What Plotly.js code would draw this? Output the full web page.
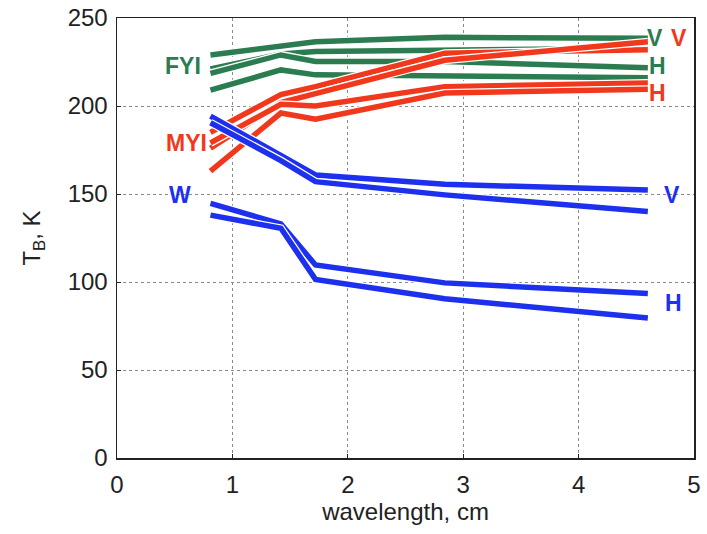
<!DOCTYPE html>
<html>
<head>
<meta charset="utf-8">
<script src="https://cdn.plot.ly/plotly-3.0.1.min.js"></script>
<style>html,body{margin:0;padding:0;background:#fff;}#chart{width:707px;height:534px;}</style>
</head>
<body>
<div id="chart"></div>
<script>
// wavelength, cm
const wavelength = [0.81, 1.42, 1.72, 2.84, 4.6];

// FYI (first-year ice)
const fyiV1 = [229, 234.5, 236.5, 239, 238.5];
const fyiV2 = [221, 229.5, 231, 232, 232.8];
const fyiH1 = [218.5, 229, 225.3, 225.3, 221.7];
const fyiH2 = [209, 220.5, 217.7, 217.3, 216];

// MYI (multi-year ice)
const myiV1 = [185, 206.5, 211, 230, 232];
const myiV2 = [176, 202, 207, 226, 236.5];
const myiH1 = [179, 201, 200, 211, 213];
const myiH2 = [163, 196, 192.5, 207.4, 209.5];

// W (water)
const wV1 = [194.3, 172, 160.8, 155.5, 152.3];
const wV2 = [190.5, 169, 157, 149.5, 140];
const wH1 = [144.7, 133, 109.7, 99.5, 93.5];
const wH2 = [138, 130.5, 101.5, 90.5, 79.5];

const GREEN = '#2b7c50', RED = '#f2381c', BLUE = '#1c30ee';

const series = [
  [fyiV1, GREEN], [fyiV2, GREEN], [fyiH1, GREEN], [fyiH2, GREEN],
  [myiV1, RED], [myiV2, RED], [myiH1, RED], [myiH2, RED],
  [wV1, BLUE], [wV2, BLUE], [wH1, BLUE], [wH2, BLUE]
];

const traces = [];
series.forEach(([ys, c]) => {
  traces.push({x: wavelength, y: ys, mode: 'lines', line: {color: '#ffffff', width: 8}, hoverinfo: 'skip', showlegend: false});
  traces.push({x: wavelength, y: ys, mode: 'lines', line: {color: c, width: 5.5}, showlegend: false});
});

// labels
const labelText = ['FYI', 'MYI', 'W', 'V', 'V', 'H', 'H', 'V', 'H'];
const labelX    = [0.57, 0.60, 0.55, 4.66, 4.87, 4.68, 4.68, 4.81, 4.82];
const labelY    = [222.5, 179, 149.5, 238.8, 238.8, 222.8, 207.6, 149.5, 88];
const labelCol  = [GREEN, RED, BLUE, GREEN, RED, GREEN, RED, BLUE, BLUE];

const FONT = 'Liberation Sans, Arial, sans-serif';

const annotations = labelText.map((t, i) => ({
  x: labelX[i], y: labelY[i], xref: 'x', yref: 'y', text: '<b>' + t + '</b>',
  showarrow: false, borderpad: 0, font: {family: FONT, size: 23, color: labelCol[i]}
}));

const axisCommon = {
  showline: true, linecolor: '#222', linewidth: 1.5, mirror: true,
  showgrid: true, gridcolor: '#8a8a8a', griddash: 'dot', gridwidth: 1,
  zeroline: false, ticks: 'inside', ticklen: 4, tickcolor: '#222',
  tickfont: {family: FONT, size: 24, color: '#222'}
};

const layout = {
  width: 707, height: 534,
  margin: {l: 117, r: 13, t: 18, b: 76},
  paper_bgcolor: '#fff', plot_bgcolor: '#fff',
  showlegend: false,
  xaxis: Object.assign({}, axisCommon, {
    range: [0, 5], tickvals: [0, 1, 2, 3, 4, 5], ticktext: ['0', '1', '2', '3', '4', '5'],
    ticklabelstandoff: 5,
    title: {text: 'wavelength, cm', standoff: 5, font: {family: FONT, size: 24, color: '#222'}}
  }),
  yaxis: Object.assign({}, axisCommon, {
    range: [0, 250], tickvals: [0, 50, 100, 150, 200, 250], ticktext: ['0', '50', '100', '150', '200', '250'],
    ticklabelstandoff: 3,
    title: {text: 'T<sub>B</sub>, K', standoff: 20, font: {family: FONT, size: 24, color: '#222'}}
  }),
  annotations: annotations
};

Plotly.newPlot('chart', traces, layout, {displayModeBar: false, staticPlot: true});
</script>
</body>
</html>
